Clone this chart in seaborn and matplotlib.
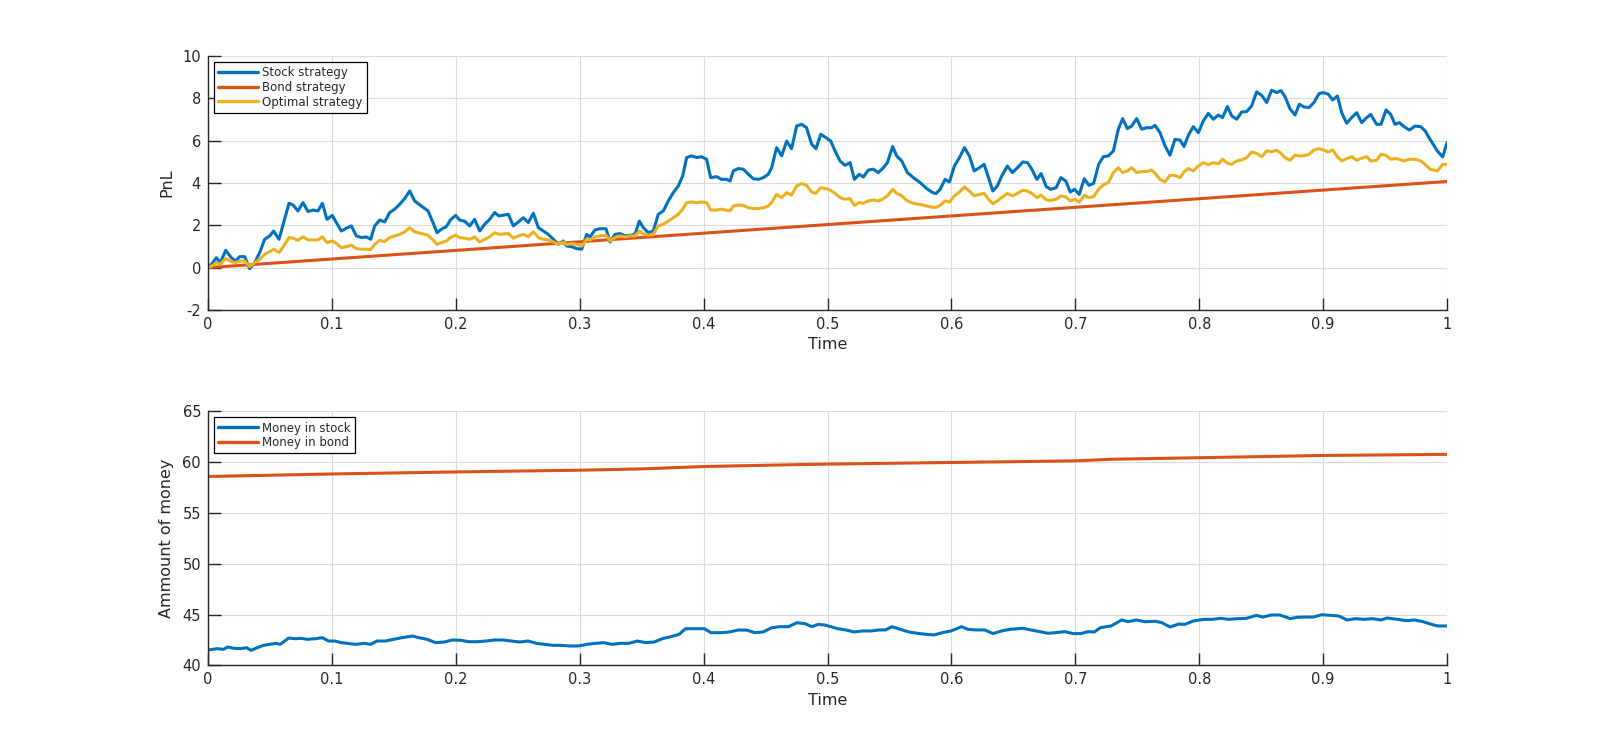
import numpy as np
import pandas as pd
import matplotlib
matplotlib.use("Agg")
import matplotlib.pyplot as plt
import seaborn as sns

# ---------------- data ----------------
time_top = [
    0, .004, .0067, .010, .0143, .0188, .0223, .0256, .0296, .0336,
    .0377, .0417, .0457, .0498, .053, .0573, .0611, .0654, .0686, .0726,
    .0767, .0807, .0847, .0888, .0923, .0960, .1003, .1036, .1076, .1116,
    .1157, .1197, .1238, .1278, .1313, .1345, .1386, .1426, .1466, .1507,
    .1547, .1587, .1628, .1668, .1722, .1776, .1816, .1848, .1883, .1924,
    .1956, .1999, .2031, .2072, .2112, .2152, .2193, .2233, .2273, .2314,
    .2349,
    .2424, .2464, .2505, .2545, .2585, .2626, .2666, .2706, .2747, .2787,
    .2827, .2868, .2895, .2935, .2975, .3016, .3056, .3083, .3123, .3164,
    .3212, .3245, .3285, .3325, .3366, .3411, .3446, .3481, .3513, .3554,
    .3594, .3634, .3675, .3715, .3755, .3796, .3831, .3863, .3903, .3944,
    .3984, .4024, .4057, .4105, .4145, .4186, .4213, .4240, .4280, .4320,
    .4361, .4401, .4441, .4482, .4522, .4549, .4589, .4630, .4670, .4710,
    .4751, .4791, .4831, .4872, .4907,
    .4945, .4988, .5026, .5061, .5101, .5141, .5182, .5217, .5257, .5289,
    .5330, .5370, .5410, .5451, .5483, .5526, .5558, .5599, .5645, .5693,
    .5747, .5801, .5850, .5876, .5909, .5949, .5984, .6024, .6065, .6105,
    .6145, .6183, .6226, .6264, .6299, .6334, .6371, .6406, .6452, .6492,
    .6533, .6576, .6614, .6649, .6689, .6724, .6765, .6802, .6846, .6883,
    .6924, .6959, .6994, .7032, .7072, .7110, .7148, .7188,
    .7226, .7267, .7307, .7347, .7382, .7420, .7455, .7495, .7535, .7576,
    .7616, .7643, .7683, .7724, .7764, .7804, .7845, .7877, .7912, .7952,
    .7993, .8033, .8073, .8114, .8154, .8189, .8227, .8262, .8302, .8342,
    .8383, .8423, .8463, .8504, .8544, .8584, .8625, .8660, .8692, .8732,
    .8773, .8808, .8845, .8886, .8926, .8967, .9002, .9042, .9077, .9115,
    .9150, .9190, .9230, .9271, .9311, .9352, .9384, .9432, .9467, .9508,
    .9545, .9580, .9615, .9653, .9696, .9742, .9788, .9823, .9863, .9922,
    .9965, 1.0,
]

stock_pnl = [
    0.00, 0.24, 0.47, 0.24, 0.82, 0.47, 0.31, 0.52, 0.52, -0.05,
    0.24, 0.71, 1.34, 1.50, 1.73, 1.34, 2.13, 3.04, 2.96, 2.68,
    3.07, 2.65, 2.72, 2.68, 3.04, 2.28, 2.47, 2.13, 1.73, 1.86,
    1.97, 1.50, 1.42, 1.45, 1.34, 1.97, 2.25, 2.16, 2.60, 2.76,
    2.99, 3.26, 3.62, 3.15, 2.91, 2.68, 2.13, 1.65, 1.81, 1.94,
    2.25, 2.47, 2.25, 2.19, 1.97, 2.28, 1.73, 2.05, 2.28, 2.60,
    2.44,
    2.52, 1.97, 2.16, 2.36, 2.13, 2.57, 1.89, 1.73, 1.57, 1.34,
    1.10, 1.26, 1.02, 0.99, 0.90, 0.87, 1.57, 1.45, 1.78, 1.84,
    1.84, 1.21, 1.57, 1.61, 1.50, 1.53, 1.57, 2.20, 1.89, 1.65,
    1.73, 2.52, 2.68, 3.15, 3.54, 3.86, 4.33, 5.20, 5.28, 5.20,
    5.24, 5.12, 4.25, 4.30, 4.17, 4.17, 4.09, 4.57, 4.68, 4.65,
    4.41, 4.20, 4.17, 4.25, 4.41, 4.72, 5.67, 5.28, 5.98, 5.62,
    6.69, 6.77, 6.61, 5.83, 5.62,
    6.30, 6.14, 5.98, 5.51, 5.04, 4.83, 4.96, 4.17, 4.41, 4.28,
    4.61, 4.65, 4.49, 4.72, 4.96, 5.72, 5.28, 5.04, 4.49, 4.25,
    4.02, 3.73, 3.54, 3.50, 3.70, 4.17, 4.05, 4.80, 5.20, 5.67,
    5.28, 4.57, 4.72, 4.88, 4.25, 3.62, 3.86, 4.33, 4.80, 4.49,
    4.72, 4.99, 4.96, 4.65, 4.17, 4.44, 3.83, 3.70, 3.78, 4.25,
    4.09, 3.57, 3.70, 3.46, 4.20, 3.89, 3.98, 4.88,
    5.24, 5.28, 5.51, 6.54, 7.04, 6.57, 6.69, 7.04, 6.54, 6.61,
    6.61, 6.72, 6.38, 5.75, 5.31, 6.06, 6.03, 5.72, 6.25, 6.66,
    6.38, 6.93, 7.29, 7.01, 7.21, 7.09, 7.61, 7.17, 7.01, 7.35,
    7.37, 7.64, 8.30, 8.14, 7.80, 8.38, 8.27, 8.36, 8.08, 7.51,
    7.21, 7.72, 7.59, 7.56, 7.80, 8.22, 8.27, 8.19, 7.92, 8.11,
    7.32, 6.82, 7.09, 7.32, 6.85, 7.09, 7.24, 6.77, 6.77, 7.45,
    7.24, 6.77, 6.85, 6.66, 6.50, 6.69, 6.66, 6.46, 6.06, 5.51,
    5.23, 5.91,
]

optimal_pnl = [
    0.00, 0.11, 0.24, 0.16, 0.43, 0.28, 0.24, 0.31, 0.31, 0.05,
    0.24, 0.39, 0.63, 0.76, 0.87, 0.71, 1.02, 1.42, 1.39, 1.29,
    1.45, 1.31, 1.31, 1.31, 1.46, 1.18, 1.26, 1.15, 0.94, 0.99,
    1.06, 0.90, 0.87, 0.87, 0.85, 1.10, 1.29, 1.23, 1.42, 1.50,
    1.57, 1.69, 1.89, 1.69, 1.61, 1.53, 1.31, 1.10, 1.18, 1.26,
    1.42, 1.53, 1.42, 1.39, 1.34, 1.45, 1.21, 1.34, 1.46, 1.65,
    1.57,
    1.61, 1.39, 1.50, 1.57, 1.46, 1.69, 1.42, 1.34, 1.31, 1.21,
    1.10, 1.21, 1.10, 1.13, 1.10, 1.02, 1.34, 1.29, 1.46, 1.50,
    1.53, 1.26, 1.42, 1.50, 1.45, 1.50, 1.50, 1.73, 1.61, 1.53,
    1.57, 1.97, 2.05, 2.20, 2.36, 2.52, 2.76, 3.07, 3.10, 3.07,
    3.10, 3.07, 2.72, 2.72, 2.76, 2.71, 2.68, 2.91, 2.96, 2.94,
    2.83, 2.79, 2.79, 2.83, 2.91, 3.07, 3.46, 3.31, 3.54, 3.43,
    3.86, 3.97, 3.89, 3.57, 3.51,
    3.78, 3.73, 3.65, 3.51, 3.31, 3.23, 3.26, 2.94, 3.07, 3.04,
    3.15, 3.20, 3.15, 3.26, 3.39, 3.70, 3.51, 3.39, 3.15, 3.04,
    2.98, 2.91, 2.85, 2.85, 2.94, 3.15, 3.10, 3.39, 3.57, 3.81,
    3.62, 3.39, 3.46, 3.51, 3.23, 3.02, 3.15, 3.31, 3.51, 3.39,
    3.51, 3.65, 3.62, 3.51, 3.31, 3.42, 3.20, 3.18, 3.23, 3.39,
    3.34, 3.15, 3.23, 3.10, 3.42, 3.31, 3.35, 3.70,
    3.91, 4.02, 4.49, 4.72, 4.49, 4.57, 4.72, 4.49, 4.54, 4.54,
    4.61, 4.46, 4.17, 4.05, 4.36, 4.36, 4.25, 4.52, 4.68, 4.57,
    4.80, 4.96, 4.87, 4.96, 4.91, 5.12, 4.93, 4.88, 5.04, 5.09,
    5.20, 5.46, 5.40, 5.24, 5.51, 5.48, 5.54, 5.40, 5.20, 5.07,
    5.31, 5.28, 5.28, 5.35, 5.56, 5.62, 5.56, 5.46, 5.56, 5.24,
    5.04, 5.15, 5.24, 5.07, 5.17, 5.24, 5.04, 5.07, 5.35, 5.31,
    5.12, 5.15, 5.12, 5.04, 5.12, 5.12, 5.04, 4.88, 4.65, 4.57,
    4.88, 4.88,
]

bond_time = [0.0, 1.0]
bond_pnl = [0.0, 4.07]

time_bottom = [
    0, .0075, .0125, .0159, .0210, .0261, .0312, .0346, .0397, .0447,
    .0498, .0549, .0583, .0651, .0702, .0753, .0803, .0871, .0922, .0973,
    .1024, .1075, .1125, .1193, .1261, .1312, .1363, .1431, .1498, .1566,
    .1651, .1702, .1769, .1837, .1905, .1973, .2041, .2108, .2176, .2244,
    .2312, .2380, .2447, .2515, .2583, .2651, .2719, .2786, .2854, .2922,
    .2990, .3058, .3125, .3193, .3261, .3329, .3397, .3464, .3532, .3600,
    .3668, .3736, .3803, .3854, .3922, .4007, .4058, .4142, .4210, .4278,
    .4346, .4414, .4481, .4549, .4617, .4685, .4753, .4820,
    .4874, .4925, .4976, .5027, .5078, .5146, .5214, .5282, .5350, .5418,
    .5469, .5520, .5588, .5656, .5724, .5793, .5861, .5929, .5997, .6082,
    .6133, .6201, .6269, .6337, .6405, .6473, .6575, .6643, .6711, .6779,
    .6847, .6915, .6983, .7044, .7102, .7153, .7204, .7289, .7374, .7425,
    .7493, .7561, .7646, .7697, .7765, .7833, .7884, .7952, .8037, .8105,
    .8173, .8241, .8310, .8378, .8463, .8514, .8582, .8650, .8735, .8786,
    .8854, .8922, .8990, .9058, .9126, .9194, .9262, .9330, .9398, .9466,
    .9517, .9602, .9670, .9738, .9806, .9874, .9925, 1.0,
]

money_stock = [
    41.52, 41.66, 41.59, 41.82, 41.69, 41.66, 41.75, 41.49, 41.75, 41.98,
    42.08, 42.18, 42.08, 42.70, 42.64, 42.67, 42.57, 42.64, 42.74, 42.41,
    42.41, 42.25, 42.18, 42.08, 42.18, 42.08, 42.41, 42.41, 42.57, 42.74,
    42.90, 42.74, 42.57, 42.25, 42.31, 42.51, 42.48, 42.34, 42.34, 42.41,
    42.51, 42.51, 42.41, 42.31, 42.41, 42.18, 42.08, 41.98, 41.98, 41.92,
    41.92, 42.08, 42.18, 42.25, 42.08, 42.18, 42.18, 42.41, 42.25, 42.31,
    42.64, 42.84, 43.07, 43.62, 43.62, 43.62, 43.23, 43.23, 43.30, 43.49,
    43.49, 43.23, 43.30, 43.72, 43.82, 43.82, 44.21, 44.11,
    43.82, 44.05, 43.99, 43.82, 43.63, 43.50, 43.30, 43.40, 43.40, 43.50,
    43.50, 43.82, 43.56, 43.30, 43.17, 43.07, 43.01, 43.24, 43.40, 43.82,
    43.56, 43.50, 43.50, 43.14, 43.40, 43.56, 43.66, 43.50, 43.33, 43.17,
    43.24, 43.33, 43.14, 43.14, 43.33, 43.30, 43.73, 43.89, 44.48, 44.31,
    44.48, 44.31, 44.35, 44.22, 43.79, 44.08, 44.05, 44.38, 44.54, 44.54,
    44.64, 44.54, 44.61, 44.64, 44.93, 44.77, 44.97, 44.97, 44.61, 44.74,
    44.77, 44.77, 45.00, 44.93, 44.87, 44.48, 44.61, 44.54, 44.61, 44.48,
    44.67, 44.54, 44.41, 44.48, 44.31, 44.05, 43.89, 43.89,
]

bond_money_time = [0.0, 0.1, 0.2, 0.3, 0.35, 0.4, 0.48, 0.5, 0.6, 0.7, 0.73, 0.8, 0.9, 1.0]
money_bond = [58.6, 58.85, 59.05, 59.22, 59.35, 59.58, 59.78, 59.82, 59.98, 60.14, 60.3, 60.45, 60.67, 60.78]

x_ticks = [0, 0.1, 0.2, 0.3, 0.4, 0.5, 0.6, 0.7, 0.8, 0.9, 1]
x_tick_labels = ["0", "0.1", "0.2", "0.3", "0.4", "0.5", "0.6", "0.7", "0.8", "0.9", "1"]
top_y_ticks = [-2, 0, 2, 4, 6, 8, 10]
bottom_y_ticks = [40, 45, 50, 55, 60, 65]

# ---------------- styling ----------------
BLUE = "#0072BD"
ORANGE = "#D95319"
YELLOW = "#EDB120"

sns.set_theme(style="whitegrid")
plt.rcParams['font.family'] = ['DejaVu Sans']

fig = plt.figure(figsize=(16, 7.48), dpi=100)
fig.patch.set_facecolor("white")
ax1 = fig.add_axes([0.13, 0.5856, 0.7744, 0.3396])
ax2 = fig.add_axes([0.13, 0.1103, 0.7744, 0.3396])

LW = 2.2

top_df = pd.DataFrame({"t": time_top, "stock": stock_pnl, "optimal": optimal_pnl})
bond_df = pd.DataFrame({"t": bond_time, "bond": bond_pnl})
sns.lineplot(data=top_df, x="t", y="stock", ax=ax1, color=BLUE, lw=LW,
             estimator=None, sort=False, label="Stock strategy")
sns.lineplot(data=bond_df, x="t", y="bond", ax=ax1, color=ORANGE, lw=LW,
             estimator=None, sort=False, label="Bond strategy")
sns.lineplot(data=top_df, x="t", y="optimal", ax=ax1, color=YELLOW, lw=LW,
             estimator=None, sort=False, label="Optimal strategy")

bot_df = pd.DataFrame({"t": time_bottom, "stock": money_stock})
bmon_df = pd.DataFrame({"t": bond_money_time, "bond": money_bond})
sns.lineplot(data=bot_df, x="t", y="stock", ax=ax2, color=BLUE, lw=LW,
             estimator=None, sort=False, label="Money in stock")
sns.lineplot(data=bmon_df, x="t", y="bond", ax=ax2, color=ORANGE, lw=LW,
             estimator=None, sort=False, label="Money in bond")

for ax, yt, ylab in [(ax1, top_y_ticks, "PnL"), (ax2, bottom_y_ticks, "Ammount of money")]:
    ax.set_facecolor("white")
    ax.set_xlim(0, 1)
    ax.set_ylim(yt[0], yt[-1])
    ax.set_xticks(x_ticks)
    ax.set_xticklabels(x_tick_labels)
    ax.set_yticks(yt)
    ax.set_yticklabels([str(v) for v in yt])
    ax.grid(True, color="#DCDCDC", lw=0.8)
    ax.set_axisbelow(True)
    for side in ["top", "right"]:
        ax.spines[side].set_visible(False)
    for side in ["left", "bottom"]:
        ax.spines[side].set_visible(True)
        ax.spines[side].set_color("#262626")
        ax.spines[side].set_linewidth(1.0)
    ax.tick_params(axis="both", direction="in", length=9, width=1.0, color="#262626",
                   labelsize=10.5, labelcolor="#262626", bottom=True, left=True,
                   top=False, right=False, pad=5)
    ax.set_xlabel("Time", fontsize=11.5, color="#262626", labelpad=4)
    ax.set_ylabel(ylab, fontsize=11.5, color="#262626", labelpad=6)
    leg = ax.legend(loc="upper left", fontsize=8.5, frameon=True, fancybox=False,
                    framealpha=1, edgecolor="black", handlelength=3.4,
                    borderaxespad=0.5, borderpad=0.35, labelspacing=0.15,
                    handletextpad=0.35)
    leg.get_frame().set_linewidth(0.9)
    for line in leg.get_lines():
        line.set_linewidth(2.4)

fig.savefig("out.png", dpi=100, facecolor="white")
